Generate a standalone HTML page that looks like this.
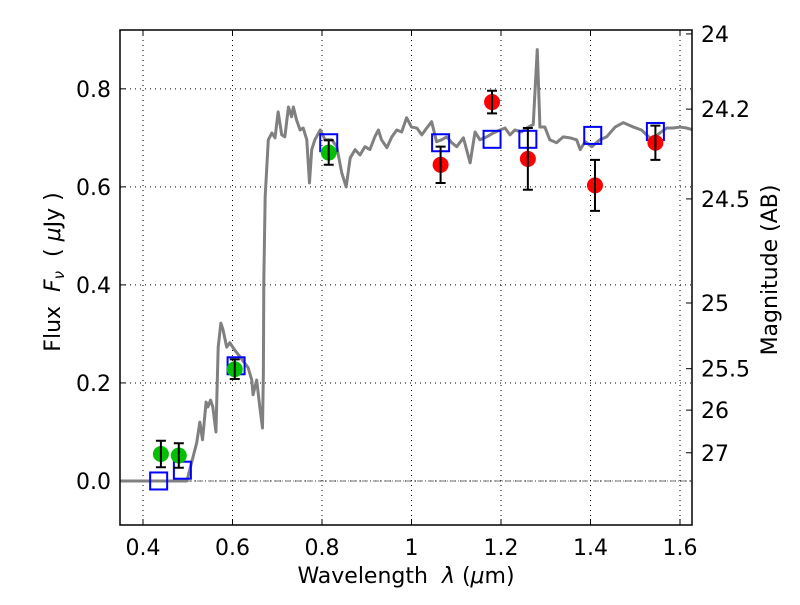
<!DOCTYPE html>
<html><head><meta charset="utf-8"><style>
body{margin:0;background:#fff}
svg text{font-family:"DejaVu Sans","Liberation Sans",sans-serif;fill:#000;white-space:pre}
</style></head><body>
<svg id="chart" width="800" height="600" xmlns="http://www.w3.org/2000/svg"></svg>
<script>
const specLam=[0.35,0.498,0.520,0.527,0.533,0.541,0.545,0.551,0.556,0.563,0.568,0.574,0.579,0.587,0.594,0.605,0.617,0.635,0.643,0.646,0.654,0.661,0.667,0.669,0.670,0.673,0.680,0.688,0.695,0.702,0.710,0.717,0.725,0.732,0.736,0.743,0.751,0.758,0.766,0.772,0.777,0.784,0.796,0.807,0.822,0.833,0.844,0.854,0.863,0.874,0.885,0.896,0.907,0.918,0.926,0.933,0.945,0.956,0.967,0.978,0.989,1.000,1.012,1.023,1.034,1.045,1.056,1.067,1.079,1.090,1.101,1.116,1.131,1.142,1.153,1.168,1.183,1.198,1.209,1.220,1.231,1.246,1.261,1.272,1.281,1.287,1.298,1.309,1.324,1.339,1.354,1.369,1.377,1.388,1.403,1.421,1.436,1.455,1.473,1.496,1.514,1.537,1.555,1.570,1.585,1.600,1.615,1.630];
const specFlux=[0,0,0.078,0.120,0.084,0.161,0.151,0.165,0.151,0.100,0.273,0.322,0.308,0.273,0.282,0.267,0.253,0.231,0.206,0.176,0.206,0.151,0.108,0.220,0.410,0.580,0.696,0.710,0.700,0.753,0.706,0.702,0.763,0.743,0.763,0.737,0.716,0.720,0.696,0.608,0.676,0.696,0.716,0.696,0.696,0.682,0.629,0.600,0.659,0.676,0.665,0.682,0.676,0.702,0.716,0.696,0.680,0.702,0.716,0.712,0.741,0.722,0.720,0.706,0.720,0.733,0.692,0.696,0.702,0.690,0.682,0.700,0.649,0.712,0.696,0.702,0.710,0.716,0.720,0.706,0.716,0.712,0.722,0.727,0.880,0.722,0.722,0.696,0.690,0.702,0.700,0.696,0.676,0.692,0.682,0.696,0.702,0.722,0.731,0.722,0.716,0.696,0.710,0.720,0.720,0.722,0.720,0.716];
const greenLam=[0.44,0.48,0.605,0.815];
const greenFlux=[0.055,0.052,0.228,0.670];
const greenErr=[0.027,0.025,0.020,0.025];
const redLam=[1.065,1.18,1.26,1.41,1.545];
const redFlux=[0.645,0.773,0.657,0.603,0.690];
const redErr=[0.037,0.023,0.063,0.052,0.035];
const modelLam=[0.435,0.488,0.608,0.815,1.065,1.18,1.26,1.405,1.545];
const modelFlux=[0.0,0.022,0.235,0.69,0.69,0.697,0.697,0.705,0.713];
const xTicks=[0.4,0.6,0.8,1.0,1.2,1.4,1.6];
const xTickLabels=["0.4","0.6","0.8","1","1.2","1.4","1.6"];
const yTicks=[0.0,0.2,0.4,0.6,0.8];
const yTickLabels=["0.0","0.2","0.4","0.6","0.8"];
const magTicks=[24,24.2,24.5,25,25.5,26,27];
const magTickLabels=["24","24.2","24.5","25","25.5","26","27"];

const L=120,R=692,T=30,B=525;
const xmin=0.3486,xmax=1.6268,ymin=-0.0898,ymax=0.920;
const sx=v=>L+(v-xmin)/(xmax-xmin)*(R-L);
const sy=v=>B-(v-ymin)/(ymax-ymin)*(B-T);
const NS="http://www.w3.org/2000/svg";
const svg=document.getElementById('chart');
function mk(tag,at,parent){const e=document.createElementNS(NS,tag);for(const k in at)e.setAttribute(k,at[k]);(parent||svg).appendChild(e);return e;}

xTicks.forEach((t,i)=>{
 const g=mk('line',{x1:sx(t),x2:sx(t),y1:T,y2:B,stroke:'#000','stroke-width':1,'stroke-dasharray':'1,4'});
 
 
 const tk=mk('line',{x1:sx(t),x2:sx(t),y1:B,y2:B-6,stroke:'#000'});
 
 
 const tk2=mk('line',{x1:sx(t),x2:sx(t),y1:T,y2:T+6,stroke:'#000'});
 
 
 const tx=mk('text',{x:sx(t),y:B+30,'text-anchor':'middle','font-size':22});
 tx.textContent=xTickLabels[i];
 
 
});
yTicks.forEach((t,i)=>{
 const g=mk('line',{x1:L,x2:R,y1:sy(t),y2:sy(t),stroke:'#000','stroke-width':1,'stroke-dasharray':'1,4'});
 
 
 const tk=mk('line',{x1:L,x2:L+6,y1:sy(t),y2:sy(t),stroke:'#000'});
 
 
 const tx=mk('text',{x:L-9,y:sy(t)+8,'text-anchor':'end','font-size':22});
 tx.textContent=yTickLabels[i];
 
 
});
magTicks.forEach((m,i)=>{
 const f=Math.pow(10,-0.4*(m-23.9));
 const y=sy(f);
 const tk=mk('line',{x1:R,x2:R-6,y1:y,y2:y,stroke:'#000'});
 
 
 const tx=mk('text',{x:R+9,y:y+8,'font-size':22});
 tx.textContent=magTickLabels[i];
 
 
});
const z=mk('line',{x1:L,x2:R,y1:sy(0),y2:sy(0),stroke:'#444','stroke-width':0.8,'stroke-dasharray':'6,2,1,2'});



const clip=mk('clipPath',{id:'pc'});mk('rect',{x:L,y:T,width:R-L,height:B-T},clip);
const sp=mk('polyline',{points:specLam.map((l,i)=>sx(l)+','+sy(specFlux[i])).join(' '),fill:'none',stroke:'#808080','stroke-width':3,'clip-path':'url(#pc)','stroke-linejoin':'round'});



modelLam.forEach((l,i)=>{
 const s=mk('rect',{x:sx(l)-8.5,y:sy(modelFlux[i])-8.5,width:17,height:17,fill:'none',stroke:'#0000ff','stroke-width':2});
 
 
});
function pts(lams,fl,er,col,name){
 lams.forEach((l,i)=>{
  const c=mk('circle',{cx:sx(l),cy:sy(fl[i]),r:8,fill:col});
  
  
  const x=sx(l),y1=sy(fl[i]+er[i]),y2=sy(fl[i]-er[i]);
  const e=mk('path',{d:`M${x},${y1}V${y2}M${x-5},${y1}H${x+5}M${x-5},${y2}H${x+5}`,stroke:'#000','stroke-width':2,fill:'none'});
  
  
 });
}
pts(greenLam,greenFlux,greenErr,'#00c000','optical-flux-point');
pts(redLam,redFlux,redErr,'#ff0000','nir-flux-point');

const fr=mk('rect',{x:L,y:T,width:R-L,height:B-T,fill:'none',stroke:'#000','stroke-width':1.5});



const xl=mk('text',{x:406,y:583,'text-anchor':'middle','font-size':22});
xl.innerHTML='Wavelength  <tspan font-style="italic">λ</tspan> (<tspan font-style="italic">μ</tspan>m)';


const yl=mk('text',{x:0,y:0,'text-anchor':'middle','font-size':22,transform:'translate(60,272) rotate(-90)'});
yl.innerHTML='Flux  <tspan font-style="italic">F</tspan><tspan font-style="italic" font-size="15" dy="4">ν</tspan><tspan dy="-4">  ( </tspan><tspan font-style="italic">μ</tspan>Jy )';


const ml=mk('text',{x:0,y:0,'text-anchor':'middle','font-size':22,transform:'translate(777,270) rotate(-90)'});
ml.textContent='Magnitude (AB)';


</script>
</body></html>
